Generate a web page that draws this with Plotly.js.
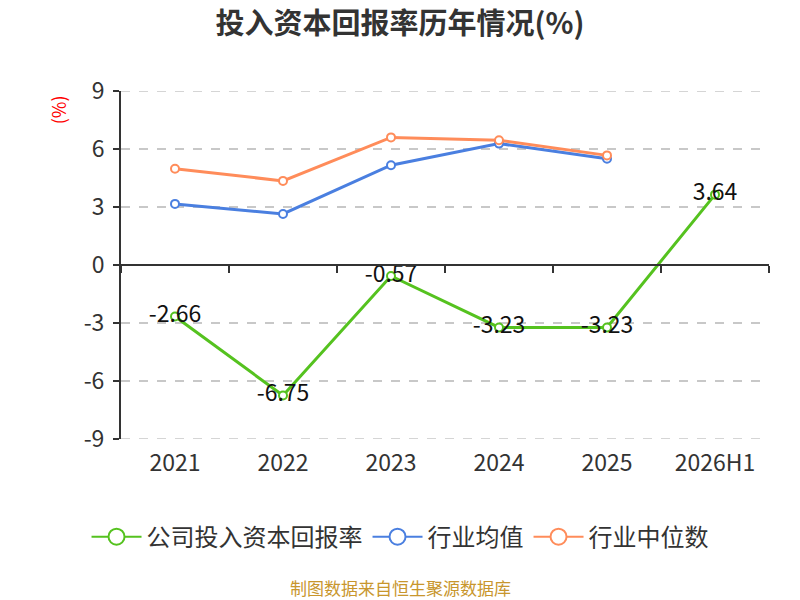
<!DOCTYPE html>
<html>
<head>
<meta charset="utf-8">
<script src="https://cdn.plot.ly/plotly-3.0.1.min.js"></script>
<style>
  body { margin: 0; background: #fff; }
  #chart { width: 800px; height: 600px; }
</style>
</head>
<body>
<div id="chart"></div>
<script>
var years = ["2021", "2022", "2023", "2024", "2025", "2026H1"];
var companyRoic = [-2.66, -6.75, -0.57, -3.23, -3.23, 3.64];
var industryMean = [3.16, 2.64, 5.16, 6.28, 5.50];
var industryMedian = [4.98, 4.35, 6.60, 6.45, 5.67];
var yTicks = [-9, -6, -3, 0, 3, 6, 9];

var seriesNames = ['公司投入资本回报率', '行业均值', '行业中位数'];
var seriesColors = ['#55c21f', '#4a7fe0', '#ff8c5a'];

var font = "'Noto Sans CJK SC', 'Noto Sans', sans-serif";

function lineTrace(name, y, color) {
    return {
        x: years.slice(0, y.length),
        y: y,
        name: name,
        type: 'scatter',
        mode: 'lines+markers',
        line: { color: color, width: 3 },
        marker: { symbol: 'circle', size: 8, color: '#fff', line: { color: color, width: 2 } },
        showlegend: false,
        hoverinfo: 'x+y'
    };
}

// legend-only entries with the bigger hollow circle seen in the key
function legendTrace(name, color) {
    return {
        x: [null], y: [null],
        name: name,
        type: 'scatter',
        mode: 'lines+markers',
        line: { color: color, width: 2 },
        marker: { symbol: 'circle', size: 16, color: '#fff', line: { color: color, width: 2 } },
        hoverinfo: 'skip'
    };
}

var company = lineTrace(seriesNames[0], companyRoic, seriesColors[0]);
company.mode = 'lines+markers+text';
company.text = companyRoic.map(function (v) { return v.toFixed(2); });
company.textposition = 'middle center';
company.textfont = { family: font, size: 23, color: '#111' };

var mean = lineTrace(seriesNames[1], industryMean, seriesColors[1]);
var median = lineTrace(seriesNames[2], industryMedian, seriesColors[2]);

// invisible trace to carry the axis drawn along zero
var zeroAxis = { x: years, y: years.map(function () { return 0; }), xaxis: 'x2', yaxis: 'y',
    mode: 'markers', marker: { opacity: 0 }, showlegend: false, hoverinfo: 'skip' };

var data = [mean, median, company, zeroAxis].concat(
    seriesNames.map(function (n, i) { return legendTrace(n, seriesColors[i]); }));

// dashed grid at the two ends of the y range (plotly drops them at the edges)
var edgeGrid = [yTicks[0], yTicks[yTicks.length - 1]].map(function (v) {
    return { type: 'line', xref: 'paper', yref: 'y', x0: 0, x1: 1, y0: v, y1: v,
        line: { color: '#c8c8c8', width: 1.5, dash: 'dash' }, layer: 'below' };
});

var layout = {
    width: 800,
    height: 600,
    margin: { l: 121, r: 31, t: 91, b: 161 },
    paper_bgcolor: '#fff',
    plot_bgcolor: '#fff',
    font: { family: font, color: '#333' },
    title: {
        text: '<b>投入资本回报率历年情况(%)</b>',
        x: 0.5, xanchor: 'center',
        y: 0.96, yanchor: 'middle',
        font: { family: font, size: 29, color: '#333' }
    },
    xaxis: {
        type: 'category',
        categoryarray: years,
        range: [-0.5, 5.5],
        showline: false,
        showgrid: false,
        zeroline: false,
        ticks: '',
        tickfont: { family: font, size: 23, color: '#333' },
        ticklabelstandoff: 8
    },
    xaxis2: {
        type: 'category',
        categoryarray: years,
        range: [-0.5, 5.5],
        overlaying: 'x',
        anchor: 'free',
        position: 0.5,
        side: 'bottom',
        showline: true,
        linecolor: '#333',
        linewidth: 2,
        showgrid: false,
        zeroline: false,
        ticks: 'outside',
        tickson: 'boundaries',
        ticklen: 7,
        tickwidth: 2,
        tickcolor: '#333',
        showticklabels: false
    },
    yaxis: {
        range: [-9, 9],
        tickvals: yTicks,
        ticktext: yTicks.map(String),
        showline: true,
        linecolor: '#333',
        linewidth: 2,
        ticks: 'outside',
        ticklen: 6,
        tickwidth: 2,
        tickcolor: '#333',
        showgrid: true,
        gridcolor: '#c8c8c8',
        griddash: 'dash',
        gridwidth: 1.5,
        zeroline: false,
        ticklabelstandoff: 4,
        tickfont: { family: font, size: 23, color: '#333' }
    },
    legend: {
        orientation: 'h',
        x: 0.4306, xanchor: 'center',
        y: -0.282, yanchor: 'middle',
        font: { family: font, size: 24, color: '#333' },
        itemwidth: 50,
        traceorder: 'normal'
    },
    shapes: edgeGrid,
    annotations: [
        {
            text: '(%)', textangle: -90,
            xref: 'paper', yref: 'paper',
            x: -0.097, y: 0.945, xanchor: 'center', yanchor: 'middle',
            showarrow: false,
            font: { family: font, size: 18, color: '#ff0000' }
        },
        {
            text: '制图数据来自恒生聚源数据库',
            xref: 'paper', yref: 'paper',
            x: 0.4306, y: -0.428, xanchor: 'center', yanchor: 'middle',
            showarrow: false,
            font: { family: font, size: 17, color: '#c8962d' }
        }
    ],
    showlegend: true
};

Plotly.newPlot(document.getElementById('chart'), data, layout, { displayModeBar: false });
</script>
</body>
</html>
